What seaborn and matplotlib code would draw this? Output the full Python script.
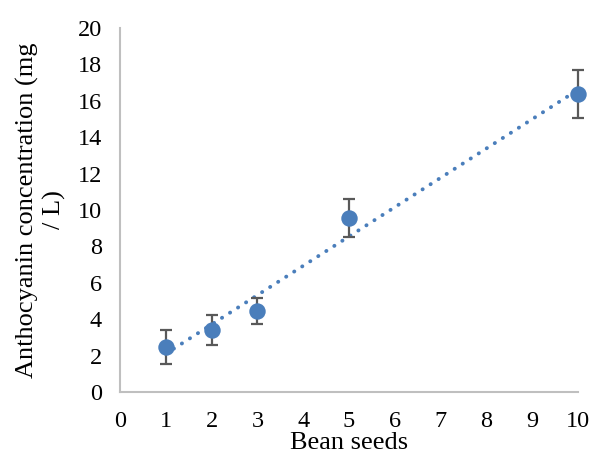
import numpy as np
import pandas as pd
import matplotlib
matplotlib.use("Agg")
import matplotlib.pyplot as plt
import seaborn as sns

# data
seeds = [1, 2, 3, 5, 10]
anthocyanin = [2.48, 3.40, 4.46, 9.57, 16.37]
err = [0.92, 0.82, 0.70, 1.05, 1.30]

df = pd.DataFrame({"seeds": seeds, "conc": anthocyanin, "err": err})

sns.set_style("white")
plt.rcParams['font.family'] = ['Liberation Serif', 'DejaVu Serif']
plt.rcParams['text.color'] = 'black'
plt.rcParams['axes.labelcolor'] = 'black'
plt.rcParams['xtick.color'] = 'black'
plt.rcParams['ytick.color'] = 'black'

blue = "#4A7EBB"

fig = plt.figure(figsize=(5.94, 4.58), dpi=100)
ax = fig.add_axes([0.202, 0.144, 0.771, 0.795])

# trend line (linear fit, dotted)
sns.regplot(data=df, x="seeds", y="conc", ax=ax, scatter=False, ci=None,
            truncate=True,
            line_kws={"color": blue, "linestyle": (0, (0.05, 2.4)),
                      "linewidth": 2.8, "dash_capstyle": "round"})

ax.errorbar(df["seeds"], df["conc"], yerr=df["err"], fmt="none",
            ecolor="#595959", elinewidth=1.6, capsize=4.3, capthick=1.6,
            zorder=3, clip_on=False)
sns.scatterplot(data=df, x="seeds", y="conc", ax=ax, color=blue, s=140,
                edgecolor=blue, linewidth=0, zorder=4, clip_on=False)

ax.set_xlim(0, 10)
ax.set_ylim(0, 20)
ax.set_xticks(range(0, 11))
ax.set_yticks(range(0, 21, 2))
ax.tick_params(axis="x", length=0, pad=14, labelsize=17.5, labelcolor="black")
ax.tick_params(axis="y", length=0, pad=13, labelsize=17.5, labelcolor="black")

for s in ["top", "right"]:
    ax.spines[s].set_visible(False)
for s in ["left", "bottom"]:
    ax.spines[s].set_color("#BFBFBF")
    ax.spines[s].set_linewidth(1.5)

ax.set_xlabel("Bean seeds", fontsize=19, labelpad=0, color="black")
ax.set_ylabel("Anthocyanin concentration (mg\n/ L)", fontsize=19, labelpad=8,
              linespacing=1.25, color="black")

fig.savefig("out.png", dpi=100)
